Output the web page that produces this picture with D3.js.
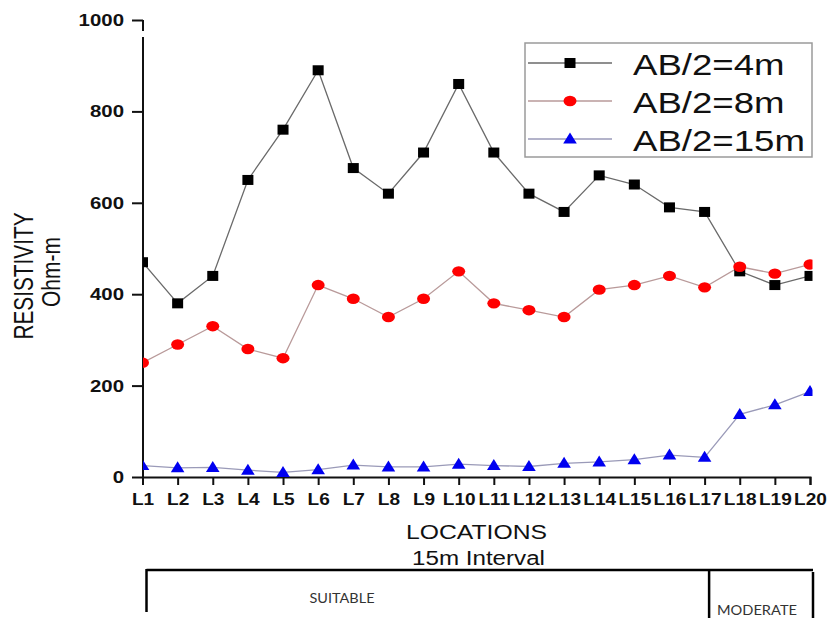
<!DOCTYPE html>
<html>
<head>
<meta charset="utf-8">
<script src="https://cdn.jsdelivr.net/npm/d3@7"></script>
<style>
  body { margin: 0; background: #fff; }
  svg { font-family: "Liberation Sans", Arial, sans-serif; }
</style>
</head>
<body>
<svg id="chart"></svg>
<script>

//data//

var locations = ["L1","L2","L3","L4","L5","L6","L7","L8","L9","L10",
                 "L11","L12","L13","L14","L15","L16","L17","L18","L19","L20"];

var ab4  = [470, 380, 440, 650, 760, 890, 676, 620, 710, 860,
            710, 620, 580, 660, 640, 590, 580, 450, 420, 440];

var ab8  = [250, 290, 330, 280, 260, 420, 390, 350, 390, 450,
            380, 365, 350, 410, 420, 440, 415, 460, 445, 465];

var ab15 = [25, 20, 21, 15, 10, 16, 26, 22, 22, 28,
            25, 23, 30, 33, 38, 48, 43, 137, 158, 187];

var seriesNames = ["AB/2=4m", "AB/2=8m", "AB/2=15m"];
var yTicks = [0, 200, 400, 600, 800, 1000];

var zoneNames = ["SUITABLE", "MODERATE"];
var zoneStart = ["L1", "L17"];
var zoneEnd   = ["L17", "L20"];

//screen and scales//

var screen = {width: 830, height: 618}

var svg = d3.select("#chart")
            .attr("width", screen.width)
            .attr("height", screen.height)

var xScale = d3.scalePoint()
               .domain(locations)
               .range([142.5, 810])

var yScale = d3.scaleLinear()
               .domain([0, 1000])
               .range([477, 20])

//stretches text sideways, the picture is a bit wide//
var widen = function(sel, k)
            {
            sel.each(function()
                 {
                 var w = this.getComputedTextLength();
                 d3.select(this)
                   .attr("textLength", w * k)
                   .attr("lengthAdjust", "spacingAndGlyphs");
                 })
            }

var series = [
  {name: seriesNames[0], values: ab4,  color: "#000", line: "#6a6a6a", shape: "square"},
  {name: seriesNames[1], values: ab8,  color: "#ff0000", line: "#b99a9a", shape: "circle"},
  {name: seriesNames[2], values: ab15, color: "#0000f0", line: "#9a9ab8", shape: "triangle"}
]

var drawMarker = function(g, shape, color)
                 {
                 if (shape == "square")
                    g.append("rect").attr("x", -5.5).attr("y", -5).attr("width", 11).attr("height", 10).attr("fill", color);
                 else if (shape == "circle")
                    g.append("ellipse").attr("rx", 6.5).attr("ry", 5.2).attr("fill", color);
                 else
                    g.append("path").attr("d", "M0,-6.5L6.8,4.5L-6.8,4.5Z").attr("fill", color);
                 }

//axes//

var yAxis = d3.axisLeft(yScale)
              .tickValues(yTicks)
              .tickFormat(d3.format("d"))
              .tickSize(11)
              .tickPadding(8)

var xAxis = d3.axisBottom(xScale)
              .tickSize(8)
              .tickPadding(8)

var gy = svg.append("g")
            .attr("id", "yAxis")
            .attr("transform", "translate(143,0)")
            .call(yAxis)

gy.select(".domain").remove();
gy.selectAll("line").attr("stroke", "#111").attr("stroke-width", 2);
gy.selectAll("text")
  .attr("fill", "#111")
  .style("font-size", "17px")
  .style("font-weight", "bold")
  .call(widen, 1.2)

//broken top of the y axis like the original//
gy.append("line")
  .attr("x1", 0).attr("x2", 0)
  .attr("y1", yScale(1000)).attr("y2", yScale(1000) + 11)
  .attr("stroke", "#111").attr("stroke-width", 2)
gy.append("line")
  .attr("x1", 0).attr("x2", 0)
  .attr("y1", yScale(1000) + 17).attr("y2", yScale(0))
  .attr("stroke", "#111").attr("stroke-width", 2)

var gx = svg.append("g")
            .attr("id", "xAxis")
            .attr("transform", "translate(0," + yScale(0) + ")")
            .call(xAxis)

gx.select(".domain").attr("stroke", "#111").attr("stroke-width", 2);
gx.selectAll("line").attr("stroke", "#111").attr("stroke-width", 2);
gx.selectAll("text")
  .attr("fill", "#111")
  .style("font-size", "17px")
  .style("font-weight", "bold")
  .call(widen, 1.12)

//axis titles//

svg.append("text")
   .attr("transform", "translate(33,276) rotate(-90)")
   .attr("text-anchor", "middle")
   .style("font-size", "27px")
   .attr("fill", "#111")
   .attr("textLength", 127)
   .attr("lengthAdjust", "spacingAndGlyphs")
   .text("RESISTIVITY")

svg.append("text")
   .attr("transform", "translate(60,272) rotate(-90)")
   .attr("text-anchor", "middle")
   .style("font-size", "25px")
   .attr("fill", "#111")
   .attr("textLength", 70)
   .attr("lengthAdjust", "spacingAndGlyphs")
   .text("Ohm-m")

svg.append("text")
   .attr("x", 476.5).attr("y", 539)
   .attr("text-anchor", "middle")
   .style("font-size", "20px")
   .attr("fill", "#111")
   .attr("textLength", 141)
   .attr("lengthAdjust", "spacingAndGlyphs")
   .text("LOCATIONS")

svg.append("text")
   .attr("x", 478.5).attr("y", 565)
   .attr("text-anchor", "middle")
   .style("font-size", "20px")
   .attr("fill", "#111")
   .attr("textLength", 133)
   .attr("lengthAdjust", "spacingAndGlyphs")
   .text("15m Interval")

//plot lines and markers, clipped at the axes//

svg.append("clipPath")
   .attr("id", "plotClip")
   .append("rect")
   .attr("x", xScale("L1") + 0.5)
   .attr("y", 0)
   .attr("width", xScale("L20") - xScale("L1") + 2)
   .attr("height", yScale(0))

var plot = svg.append("g")
              .attr("id", "graph")
              .attr("clip-path", "url(#plotClip)")

var line = d3.line()
             .x(function(d, i) { return xScale(locations[i]); })
             .y(function(d) { return yScale(d); })

series.forEach(function(s)
       {
       plot.append("path")
           .datum(s.values)
           .attr("d", line)
           .attr("fill", "none")
           .attr("stroke", s.line)
           .attr("stroke-width", 1.3)
       })

series.forEach(function(s)
       {
       plot.selectAll(".m" + s.shape)
           .data(s.values)
           .enter()
           .append("g")
           .attr("class", "m" + s.shape)
           .attr("transform", function(d, i)
                 {
                 return "translate(" + xScale(locations[i]) + "," + yScale(d) + ")";
                 })
           .each(function()
                 {
                 drawMarker(d3.select(this), s.shape, s.color);
                 })
       })

//legend//

var legend = svg.append("g")
                .attr("id", "legend")
                .attr("transform", "translate(525,43)")

legend.append("rect")
      .attr("width", 287)
      .attr("height", 114)
      .attr("fill", "#fff")
      .attr("stroke", "#9a9a9a")
      .attr("stroke-width", 1.5)

var rows = legend.selectAll(".row")
                 .data(series)
                 .enter()
                 .append("g")
                 .attr("class", "row")
                 .attr("transform", function(s, i) { return "translate(0," + (20 + i * 38) + ")"; })

rows.append("line")
    .attr("x1", 3).attr("x2", 87)
    .attr("stroke", function(s) { return s.line; })
    .attr("stroke-width", 1.3)

rows.append("g")
    .attr("transform", "translate(45,0)")
    .each(function(s) { drawMarker(d3.select(this), s.shape, s.color); })

rows.append("text")
    .attr("x", 108)
    .attr("y", 12)
    .style("font-size", "30px")
    .attr("fill", "#111")
    .text(function(s) { return s.name; })
    .call(widen, 1.22)

//suitability brackets under the chart//

var zones = svg.append("g").attr("id", "zones")

zones.append("line")
     .attr("x1", xScale(zoneStart[0]) + 4).attr("x2", xScale(zoneEnd[1]) + 3)
     .attr("y1", 570).attr("y2", 570)
     .attr("stroke", "#000").attr("stroke-width", 2.5)

zones.append("line")
     .attr("x1", xScale(zoneStart[0]) + 4).attr("x2", xScale(zoneStart[0]) + 4)
     .attr("y1", 569).attr("y2", 612)
     .attr("stroke", "#000").attr("stroke-width", 2.5)

zones.append("line")
     .attr("x1", xScale(zoneStart[1]) + 4.5).attr("x2", xScale(zoneStart[1]) + 4.5)
     .attr("y1", 569).attr("y2", 618)
     .attr("stroke", "#000").attr("stroke-width", 2.5)

zones.append("line")
     .attr("x1", xScale(zoneEnd[1]) + 3).attr("x2", xScale(zoneEnd[1]) + 3)
     .attr("y1", 572).attr("y2", 618)
     .attr("stroke", "#000").attr("stroke-width", 2.5)

zones.append("text")
     .attr("x", 342).attr("y", 603)
     .attr("text-anchor", "middle")
     .style("font-family", "Lato, sans-serif")
     .style("font-size", "14px")
     .attr("fill", "#333")
     .attr("textLength", 65)
     .attr("lengthAdjust", "spacingAndGlyphs")
     .text(zoneNames[0])

zones.append("text")
     .attr("x", 757).attr("y", 615)
     .attr("text-anchor", "middle")
     .style("font-family", "Lato, sans-serif")
     .style("font-size", "14px")
     .attr("fill", "#333")
     .attr("textLength", 80)
     .attr("lengthAdjust", "spacingAndGlyphs")
     .text(zoneNames[1])

</script>
</body>
</html>
